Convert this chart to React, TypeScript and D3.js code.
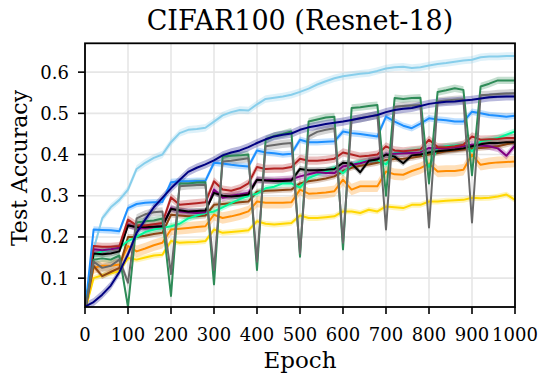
import React from "react";
import * as d3 from "d3";

const epochs = [0, 20, 40, 60, 80, 100, 120, 140, 160, 180, 200, 220, 240, 260, 280, 300, 320, 340, 360, 380, 400,
  420, 440, 460, 480, 500, 520, 540, 560, 580, 600, 620, 640, 660, 680, 700, 720, 740, 760, 780, 800,
  820, 840, 860, 880, 900, 920, 940, 960, 980, 1000];

const skyblueVals = [0.02, 0.17, 0.245, 0.272, 0.29, 0.315, 0.365, 0.38, 0.392, 0.40, 0.43, 0.452, 0.46, 0.462, 0.465, 0.48,
  0.495, 0.503, 0.508, 0.507, 0.522, 0.535, 0.538, 0.541, 0.545, 0.552, 0.56, 0.57, 0.578, 0.585, 0.59,
  0.593, 0.596, 0.598, 0.603, 0.609, 0.612, 0.613, 0.61, 0.612, 0.616, 0.62, 0.622, 0.625, 0.628, 0.63,
  0.636, 0.638, 0.638, 0.639, 0.639];
const navyVals = [0.031, 0.042, 0.06, 0.082, 0.115, 0.158, 0.21, 0.242, 0.272, 0.295, 0.318, 0.338, 0.358, 0.368, 0.376, 0.386,
  0.398, 0.405, 0.41, 0.418, 0.428, 0.437, 0.444, 0.448, 0.451, 0.46, 0.466, 0.47, 0.474, 0.477, 0.48,
  0.484, 0.488, 0.492, 0.496, 0.503, 0.508, 0.511, 0.513, 0.518, 0.523, 0.526, 0.528, 0.529, 0.531, 0.533,
  0.536, 0.539, 0.54, 0.541, 0.541];
const dodgerVals = [0.02, 0.218, 0.217, 0.216, 0.214, 0.27, 0.28, 0.283, 0.284, 0.285, 0.333, 0.335, 0.335, 0.336, 0.336, 0.38,
  0.378, 0.375, 0.373, 0.371, 0.41, 0.405, 0.403, 0.40, 0.402, 0.436, 0.43, 0.43, 0.431, 0.432, 0.456,
  0.452, 0.45, 0.447, 0.444, 0.492, 0.48, 0.47, 0.464, 0.475, 0.488, 0.485, 0.483, 0.48, 0.48, 0.504,
  0.50, 0.496, 0.494, 0.492, 0.494];
const seagreenVals = [0.02, 0.145, 0.148, 0.145, 0.155, 0.03, 0.235, 0.238, 0.24, 0.245, 0.057, 0.33, 0.33, 0.332, 0.333, 0.085,
  0.395, 0.397, 0.398, 0.40, 0.12, 0.436, 0.445, 0.45, 0.456, 0.152, 0.48, 0.485, 0.49, 0.492, 0.17,
  0.513, 0.515, 0.518, 0.52, 0.30, 0.537, 0.535, 0.537, 0.538, 0.33, 0.552, 0.556, 0.561, 0.557, 0.35,
  0.565, 0.572, 0.58, 0.58, 0.58];
const grayVals = [0.02, 0.14, 0.125, 0.13, 0.145, 0.089, 0.245, 0.255, 0.26, 0.262, 0.11, 0.323, 0.325, 0.326, 0.327, 0.12,
  0.383, 0.385, 0.388, 0.391, 0.14, 0.42, 0.423, 0.426, 0.428, 0.16, 0.444, 0.455, 0.46, 0.464, 0.186,
  0.484, 0.488, 0.492, 0.496, 0.218, 0.516, 0.518, 0.519, 0.52, 0.223, 0.529, 0.531, 0.533, 0.534, 0.235,
  0.544, 0.545, 0.547, 0.548, 0.549];
const redVals = [0.02, 0.178, 0.176, 0.176, 0.178, 0.242, 0.228, 0.228, 0.231, 0.234, 0.296, 0.278, 0.28, 0.282, 0.284, 0.335,
  0.315, 0.312, 0.318, 0.33, 0.37, 0.365, 0.366, 0.366, 0.37, 0.39, 0.385, 0.385, 0.387, 0.39, 0.405,
  0.40, 0.395, 0.397, 0.40, 0.42, 0.41, 0.408, 0.41, 0.412, 0.436, 0.418, 0.418, 0.42, 0.424, 0.444,
  0.436, 0.437, 0.438, 0.44, 0.44];
const blackVals = [0.02, 0.16, 0.158, 0.16, 0.165, 0.228, 0.224, 0.224, 0.225, 0.226, 0.268, 0.265, 0.262, 0.263, 0.264, 0.307,
  0.30, 0.298, 0.30, 0.303, 0.339, 0.337, 0.336, 0.336, 0.337, 0.365, 0.362, 0.362, 0.363, 0.365, 0.38,
  0.378, 0.357, 0.385, 0.388, 0.40, 0.395, 0.379, 0.398, 0.40, 0.405, 0.408, 0.41, 0.412, 0.415, 0.42,
  0.425, 0.428, 0.428, 0.43, 0.43];
const purpleVals = [0.02, 0.17, 0.168, 0.17, 0.174, 0.23, 0.222, 0.222, 0.224, 0.226, 0.27, 0.262, 0.26, 0.258, 0.26, 0.315,
  0.295, 0.30, 0.303, 0.307, 0.339, 0.338, 0.338, 0.339, 0.34, 0.347, 0.352, 0.357, 0.355, 0.355, 0.371,
  0.375, 0.379, 0.385, 0.39, 0.40, 0.402, 0.403, 0.404, 0.405, 0.416, 0.415, 0.415, 0.418, 0.42, 0.424,
  0.422, 0.42, 0.415, 0.397, 0.422];
const brownVals = [0.02, 0.13, 0.105, 0.115, 0.125, 0.2, 0.2, 0.203, 0.207, 0.21, 0.254, 0.252, 0.25, 0.25, 0.252, 0.278,
  0.28, 0.282, 0.284, 0.286, 0.31, 0.312, 0.313, 0.314, 0.315, 0.33, 0.335, 0.338, 0.342, 0.347, 0.36,
  0.368, 0.373, 0.376, 0.38, 0.387, 0.389, 0.39, 0.392, 0.396, 0.40, 0.404, 0.408, 0.41, 0.412, 0.414,
  0.416, 0.418, 0.42, 0.425, 0.43];
const springVals = [0.02, 0.157, 0.165, 0.17, 0.174, 0.19, 0.2, 0.212, 0.218, 0.222, 0.226, 0.232, 0.245, 0.252, 0.258, 0.262,
  0.272, 0.282, 0.292, 0.30, 0.305, 0.318, 0.322, 0.33, 0.33, 0.32, 0.343, 0.352, 0.358, 0.368, 0.355,
  0.375, 0.383, 0.385, 0.387, 0.376, 0.404, 0.405, 0.41, 0.412, 0.37, 0.416, 0.42, 0.422, 0.424, 0.408,
  0.432, 0.436, 0.44, 0.448, 0.456];
const orangeVals = [0.02, 0.125, 0.13, 0.13, 0.133, 0.178, 0.165, 0.172, 0.18, 0.186, 0.218, 0.22, 0.222, 0.224, 0.226, 0.254,
  0.246, 0.25, 0.255, 0.262, 0.286, 0.283, 0.283, 0.283, 0.284, 0.315, 0.305, 0.306, 0.308, 0.311, 0.339,
  0.315, 0.323, 0.323, 0.323, 0.359, 0.352, 0.351, 0.36, 0.367, 0.378, 0.359, 0.36, 0.36, 0.363, 0.40,
  0.375, 0.379, 0.381, 0.382, 0.383];
const goldVals = [0.02, 0.10, 0.107, 0.112, 0.117, 0.149, 0.145, 0.15, 0.155, 0.157, 0.19, 0.186, 0.187, 0.188, 0.19, 0.218,
  0.21, 0.212, 0.214, 0.216, 0.238, 0.232, 0.23, 0.232, 0.234, 0.252, 0.246, 0.246, 0.248, 0.25, 0.262,
  0.262, 0.258, 0.266, 0.262, 0.274, 0.272, 0.27, 0.278, 0.278, 0.286, 0.286, 0.288, 0.289, 0.29, 0.295,
  0.294, 0.295, 0.298, 0.303, 0.29];

const xTicks = [0, 100, 200, 300, 400, 500, 600, 700, 800, 900, 1000];
const yTicks = [0.1, 0.2, 0.3, 0.4, 0.5, 0.6];

const series = [
  { id: "skyblue", values: skyblueVals, color: "#87CEEB", spread: 0.009 },
  { id: "gold", values: goldVals, color: "#FFD700", spread: 0.007 },
  { id: "orange", values: orangeVals, color: "#FF8C00", spread: 0.014 },
  { id: "brown", values: brownVals, color: "#8B4513", spread: 0.007 },
  { id: "spring", values: springVals, color: "#00FA9A", spread: 0.008 },
  { id: "purple", values: purpleVals, color: "#800080", spread: 0.009 },
  { id: "black", values: blackVals, color: "#000000", spread: 0.007 },
  { id: "red", values: redVals, color: "#B22222", spread: 0.01 },
  { id: "dodger", values: dodgerVals, color: "#1E90FF", spread: 0.008 },
  { id: "seagreen", values: seagreenVals, color: "#2E8B57", spread: 0.009 },
  { id: "gray", values: grayVals, color: "#696969", spread: 0.01 },
  { id: "navy", values: navyVals, color: "#000080", spread: 0.01 },
];

const W = 548;
const H = 382;
const PL = 85;
const PR = 515;
const PT = 43.3;
const PB = 307;
const FONT = "'DejaVu Serif', serif";

export default function App() {
  const x = d3.scaleLinear().domain([0, 1000]).range([PL, PR]);
  const y = d3.scaleLinear().domain([0.03, 0.67]).range([PB, PT]);

  const line = d3
    .line<number>()
    .x((_, i) => x(epochs[i]))
    .y((d) => y(d));

  return (
    <svg
      width={W}
      height={H}
      style={{ position: "absolute", left: 0, top: 0, background: "#fff" }}
      fontFamily={FONT}
    >
      <defs>
        <clipPath id="plotclip">
          <rect x={PL} y={PT} width={PR - PL} height={PB - PT} />
        </clipPath>
      </defs>
      <rect x={0} y={0} width={W} height={H} fill="#fff" />
      {xTicks.map((t) => (
        <line key={"gx" + t} x1={x(t)} x2={x(t)} y1={PT} y2={PB} stroke="#e6e6e6" strokeWidth={1.6} />
      ))}
      {yTicks.map((t) => (
        <line key={"gy" + t} x1={PL} x2={PR} y1={y(t)} y2={y(t)} stroke="#e6e6e6" strokeWidth={1.6} />
      ))}
      <g clipPath="url(#plotclip)">
        {series.map((s) => {
          const area = d3
            .area<number>()
            .x((_, i) => x(epochs[i]))
            .y0((d) => y(d - s.spread))
            .y1((d) => y(d + s.spread));
          return <path key={"a" + s.id} d={area(s.values) || ""} fill={s.color} opacity={0.28} />;
        })}
        {series.map((s) => (
          <path
            key={"l" + s.id}
            d={line(s.values) || ""}
            fill="none"
            stroke={s.color}
            strokeWidth={2}
            strokeLinejoin="round"
          />
        ))}
      </g>
      <rect x={PL} y={PT} width={PR - PL} height={PB - PT} fill="none" stroke="#000" strokeWidth={1.8} />
      {xTicks.map((t) => (
        <g key={"xt" + t}>
          <line x1={x(t)} x2={x(t)} y1={PB} y2={PB + 7} stroke="#000" strokeWidth={1.6} />
          <text x={x(t)} y={341} textAnchor="middle" fontSize={18} fill="#000">
            {t}
          </text>
        </g>
      ))}
      {yTicks.map((t) => (
        <g key={"yt" + t}>
          <line x1={PL - 7} x2={PL} y1={y(t)} y2={y(t)} stroke="#000" strokeWidth={1.6} />
          <text x={69} y={y(t)} dy="0.36em" textAnchor="end" fontSize={18} fill="#000">
            {t.toFixed(1)}
          </text>
        </g>
      ))}
      <text x={(PL + PR) / 2} y={30} textAnchor="middle" fontSize={27} fill="#000">
        CIFAR100 (Resnet-18)
      </text>
      <text x={(PL + PR) / 2} y={368} textAnchor="middle" fontSize={23} fill="#000">
        Epoch
      </text>
      <text
        transform={`translate(27, 168) rotate(-90)`}
        textAnchor="middle"
        fontSize={22}
        fill="#000"
      >
        Test Accuracy
      </text>
    </svg>
  );
}
